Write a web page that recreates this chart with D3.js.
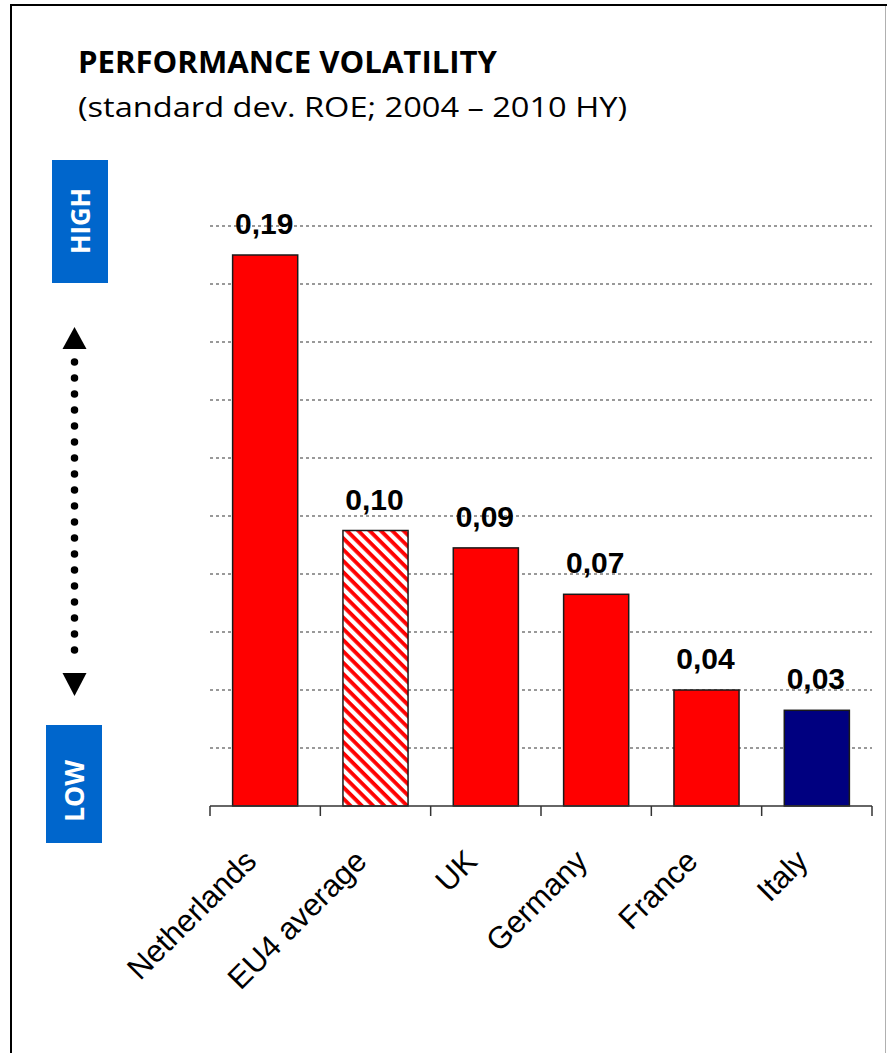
<!DOCTYPE html>
<html>
<head>
<meta charset="utf-8">
<script src="https://cdn.jsdelivr.net/npm/d3@7"></script>
<style>
  html, body { margin: 0; padding: 0; background: #fff; }
  svg { display: block; }
</style>
</head>
<body>
<svg id="chart" width="887" height="1053"></svg>
<script>
// Standard deviation of ROE, 2004 – 2010 HY
const categories = ["Netherlands", "EU4 average", "UK", "Germany", "France", "Italy"];
const values = [0.19, 0.095, 0.089, 0.073, 0.040, 0.033];
const barFills = ["red", "hatch", "red", "red", "red", "navy"];
const yTicks = [0.02, 0.04, 0.06, 0.08, 0.10, 0.12, 0.14, 0.16, 0.18, 0.20];
const titleText = "PERFORMANCE VOLATILITY";
const subtitleText = "(standard dev. ROE; 2004 \u2013 2010 HY)";
const highLabel = "HIGH";
const lowLabel = "LOW";

const svg = d3.select("#chart");
const W = 887, H = 1053;

// frame
svg.append("rect").attr("width", W).attr("height", H).attr("fill", "#fff");
svg.append("line").attr("x1", 11).attr("x2", 11).attr("y1", 4).attr("y2", H)
  .attr("stroke", "#000").attr("stroke-width", 2);
svg.append("line").attr("x1", 10).attr("x2", W).attr("y1", 5).attr("y2", 5)
  .attr("stroke", "#000").attr("stroke-width", 2);
svg.append("line").attr("x1", 885.5).attr("x2", 885.5).attr("y1", 6).attr("y2", H)
  .attr("stroke", "#b0b0b0").attr("stroke-width", 1);

// title block
svg.append("text").attr("x", 78).attr("y", 73)
  .attr("font-family", "'Open Sans', sans-serif").attr("font-weight", 700)
  .attr("font-size", 29.5).attr("textLength", 419).attr("lengthAdjust", "spacingAndGlyphs")
  .attr("fill", "#000").text(titleText);
svg.append("text").attr("x", 78).attr("y", 117)
  .attr("font-family", "'Open Sans', sans-serif").attr("font-weight", 400)
  .attr("font-size", 27.5).attr("textLength", 549).attr("lengthAdjust", "spacingAndGlyphs")
  .attr("fill", "#000").text(subtitleText);

// hatch pattern for the average bar
const defs = svg.append("defs");
const pat = defs.append("pattern").attr("id", "hatch")
  .attr("patternUnits", "userSpaceOnUse").attr("width", 8).attr("height", 8)
  .attr("patternTransform", "rotate(45)");
pat.append("rect").attr("width", 8).attr("height", 8).attr("fill", "#fff");
pat.append("rect").attr("width", 8).attr("height", 3.8).attr("fill", "#ff0000");

const fillFor = k => k === "hatch" ? "url(#hatch)" : (k === "navy" ? "#000080" : "#ff0000");

// scales
const x0 = 210, x1 = 872, yBase = 806, yTop = 226;
const y = d3.scaleLinear().domain([0, 0.20]).range([yBase, yTop]);
const xCat = d3.scaleBand().domain(categories).range([x0, x1]);
const xBar = d3.scaleBand().domain(categories).range([x0, x1])
  .paddingInner(0.41).paddingOuter(0.205);

// gridlines
svg.append("g").selectAll("line").data(yTicks).join("line")
  .attr("x1", x0).attr("x2", x1)
  .attr("y1", d => y(d)).attr("y2", d => y(d))
  .attr("stroke", "#999").attr("stroke-width", 2).attr("stroke-dasharray", "3,3");

// bars
svg.append("g").selectAll("rect").data(categories).join("rect")
  .attr("x", d => xBar(d))
  .attr("width", xBar.bandwidth())
  .attr("y", (d, i) => y(values[i]))
  .attr("height", (d, i) => yBase - y(values[i]))
  .attr("fill", (d, i) => fillFor(barFills[i]))
  .attr("stroke", "#1a1a1a").attr("stroke-width", 1.5);

// value labels
const fmt = d3.format(".2f");
svg.append("g").selectAll("text").data(categories).join("text")
  .attr("x", d => xBar(d) + xBar.bandwidth() / 2 - 1)
  .attr("y", (d, i) => y(values[i]) - 21)
  .attr("text-anchor", "middle")
  .attr("font-family", "'Liberation Sans', Arial, sans-serif")
  .attr("font-weight", 700).attr("font-size", 30).attr("fill", "#000")
  .text((d, i) => fmt(values[i]).replace(".", ","));

// category axis: baseline with ticks between categories
const axis = svg.append("g");
axis.append("line").attr("x1", x0).attr("x2", x1).attr("y1", yBase).attr("y2", yBase)
  .attr("stroke", "#333").attr("stroke-width", 1.5);
const bounds = categories.map(c => xCat(c)).concat([x1]);
axis.selectAll("line.tick").data(bounds).join("line").attr("class", "tick")
  .attr("x1", d => d).attr("x2", d => d).attr("y1", yBase).attr("y2", yBase + 10)
  .attr("stroke", "#333").attr("stroke-width", 1.5);

// rotated category labels
svg.append("g").selectAll("text").data(categories).join("text")
  .attr("transform", d => `translate(${xCat(d) + xCat.bandwidth() / 2 - 7},863) rotate(-45)`)
  .attr("text-anchor", "end")
  .attr("font-family", "'Liberation Sans', Arial, sans-serif")
  .attr("font-size", 31).attr("fill", "#000")
  .text(d => d);

// HIGH / LOW markers
const blue = "#0066cc";
svg.append("rect").attr("x", 52).attr("y", 160).attr("width", 56).attr("height", 123).attr("fill", blue);
svg.append("rect").attr("x", 46).attr("y", 725).attr("width", 56).attr("height", 118).attr("fill", blue);
svg.append("text").attr("transform", "translate(89.5,221) rotate(-90)")
  .attr("text-anchor", "middle")
  .attr("font-family", "'Open Sans', sans-serif").attr("font-weight", 700)
  .attr("font-size", 27).attr("textLength", 66).attr("lengthAdjust", "spacingAndGlyphs")
  .attr("fill", "#fff").text(highLabel);
svg.append("text").attr("transform", "translate(83.5,791) rotate(-90)")
  .attr("text-anchor", "middle")
  .attr("font-family", "'Open Sans', sans-serif").attr("font-weight", 700)
  .attr("font-size", 27).attr("textLength", 62).attr("lengthAdjust", "spacingAndGlyphs")
  .attr("fill", "#fff").text(lowLabel);

// dotted double arrow between the markers
const ax = 74.5;
svg.append("line").attr("x1", ax).attr("x2", ax).attr("y1", 362).attr("y2", 666)
  .attr("stroke", "#000").attr("stroke-width", 7.5)
  .attr("stroke-linecap", "round").attr("stroke-dasharray", "0,16");
svg.append("path").attr("d", `M${ax},327 L${ax + 12},349 L${ax - 12},349 Z`).attr("fill", "#000");
svg.append("path").attr("d", `M${ax},696 L${ax + 12},673 L${ax - 12},673 Z`).attr("fill", "#000");
</script>
</body>
</html>
